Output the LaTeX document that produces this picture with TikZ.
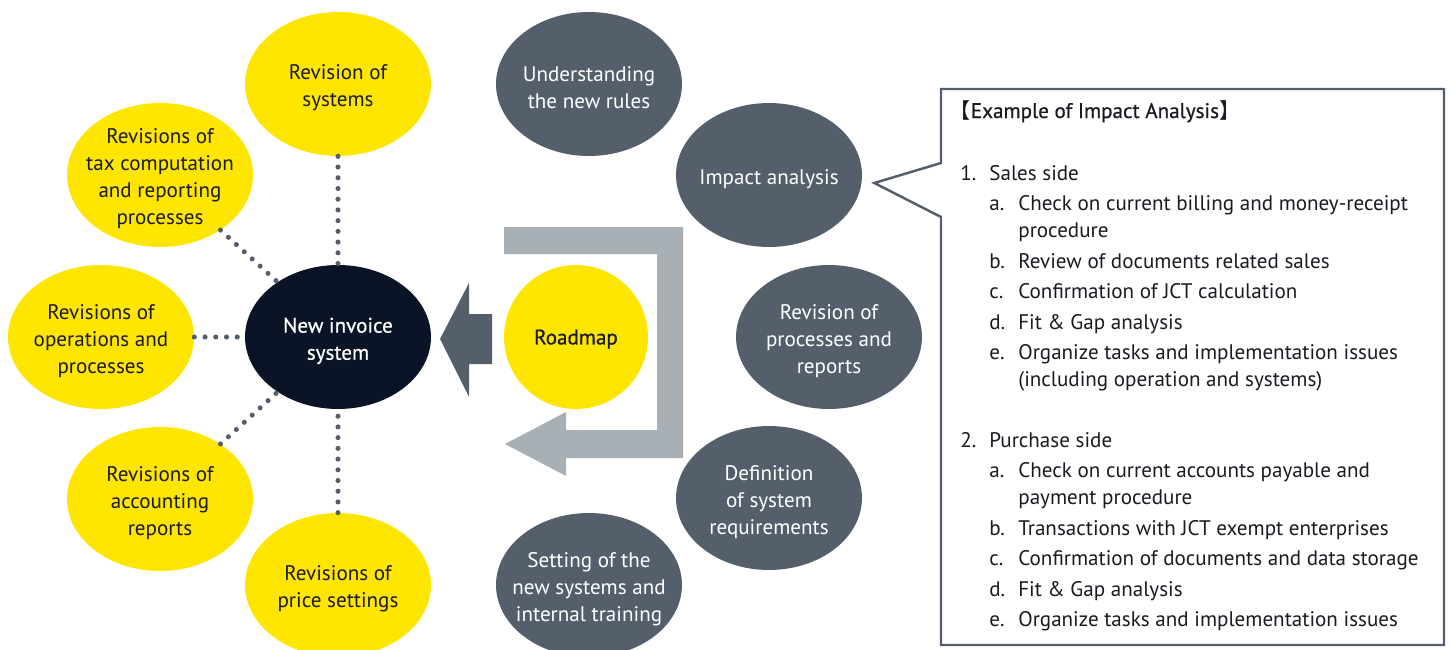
\documentclass[tikz,border=0pt]{standalone}
\usepackage{fontspec}
\setmainfont{PT Sans}
\newfontfamily\cjk[RawFeature=+halt]{Noto Sans CJK JP}
\newfontfamily\medium[FakeBold=0.6]{PT Sans}
\usetikzlibrary{shapes.geometric}
\definecolor{eyyellow}{HTML}{FFE600}
\definecolor{eynavy}{HTML}{0B1426}
\definecolor{eygrey}{HTML}{555F6B}
\definecolor{eylight}{HTML}{A8AFB5}
\definecolor{eyink}{HTML}{1A1A24}

\begin{document}
\begin{tikzpicture}[
    x=0.02cm, y=-0.02cm,
    bubble/.style={ellipse, inner sep=0pt, minimum width=3.72cm, minimum height=2.88cm},
    yel/.style={bubble, fill=eyyellow},
    dark/.style={bubble, fill=eygrey},
    ytext/.style={align=center, text=eyink, yshift=-2.2pt, font=\fontsize{12}{15.4}\selectfont},
    dtext/.style={align=center, text=white, yshift=-2.2pt, font=\fontsize{12}{15.4}\selectfont},
    dotline/.style={draw=eygrey, line width=2.9pt, line cap=round, dash pattern=on 0pt off 6.1pt},
    callout/.style={draw=eygrey, line width=1.4pt, line join=miter}
]
\useasboundingbox (0,0) rectangle (1450,649);
\clip (0,0) rectangle (1450,649);

\node[yel, label={[ytext]center:Revision of\\systems}] (rsys) at (338,84) {};
\node[yel, label={[ytext]center:Revisions of\\tax computation\\and reporting\\processes}] (rtax) at (160,175) {};
\node[yel, label={[ytext]center:Revisions of\\operations and\\processes}] (rops) at (101,337) {};
\node[bubble, fill=eynavy, label={[dtext, font=\medium\fontsize{12}{15.4}\selectfont]center:New invoice\\system}] (nis) at (338,337) {};
\node[yel, label={[ytext]center:Revisions of\\accounting\\reports}] (racc) at (160,499) {};
\node[yel, label={[ytext]center:Revisions of\\price settings}] (rprice) at (338,585) {};

\draw[dotline] (rsys) -- (nis);
\draw[dotline] (rtax) -- (nis);
\draw[dotline] (rops) -- (nis);
\draw[dotline] (racc) -- (nis);
\draw[dotline] (rprice) -- (nis);

\node[dark, label={[dtext]center:Understanding\\the new rules}] (rules) at (589,84) {};
\node[dark, label={[dtext]center:Impact analysis}] (imp) at (769,175) {};
\node[dark, label={[dtext]center:Revision of\\processes and\\reports}] (rproc) at (829,337) {};
\node[dark, label={[dtext]center:Definition\\of system\\requirements}] (sysreq) at (769,498) {};
\node[dark, label={[dtext]center:Setting of the\\new systems and\\internal training}] (setting) at (589,585) {};

\fill[eylight] (504,227) -- (683,227) -- (683,458) -- (566,458) -- (566,476) -- (505,444)
    -- (566,412) -- (566,430) -- (657,430) -- (657,254) -- (504,254) -- cycle;
\fill[eygrey] (492,314) -- (469,314) -- (469,283) -- (440,339) -- (469,397) -- (469,364)
    -- (492,364) -- cycle;

\node[circle, fill=eyyellow, minimum size=2.88cm, inner sep=0pt, text=eyink, text depth=0pt,
    font=\medium\fontsize{12}{15.4}\selectfont] (road) at (576,337) {Roadmap};

\coordinate (tip) at ([xshift=0.24cm, yshift=-0.16cm]imp.east);
\draw[callout] (941,89) -- (1444,89) -- (1444,645) -- (941,645) -- (941,217) -- (tip)
    -- (941,163) -- cycle;

\node[anchor=base west, inner sep=0pt, text=eyink, font=\fontsize{12}{15.4}\selectfont] (analysis) at (960,118) {%
\begin{tabular}[t]{@{}p{0.58cm}@{}p{0.58cm}@{}l@{}}
\multicolumn{3}{@{}l@{}}{{\cjk 【}{\medium Example of Impact Analysis}{\cjk 】}}\\[19.9pt]
1. & \multicolumn{2}{@{}l@{}}{Sales side}\\[2pt]
 & a. & Check on current billing and money-receipt\\
 & & procedure\\[2pt]
 & b. & Review of documents related sales\\[2pt]
 & c. & Confirmation of JCT calculation\\[2pt]
 & d. & Fit \& Gap analysis\\[2pt]
 & e. & Organize tasks and implementation issues\\
 & & (including operation and systems)\\[18.8pt]
2. & \multicolumn{2}{@{}l@{}}{Purchase side}\\[2pt]
 & a. & Check on current accounts payable and\\
 & & payment procedure\\[2pt]
 & b. & Transactions with JCT exempt enterprises\\[2pt]
 & c. & Confirmation of documents and data storage\\[2pt]
 & d. & Fit \& Gap analysis\\[2pt]
 & e. & Organize tasks and implementation issues
\end{tabular}};
\end{tikzpicture}
\end{document}
